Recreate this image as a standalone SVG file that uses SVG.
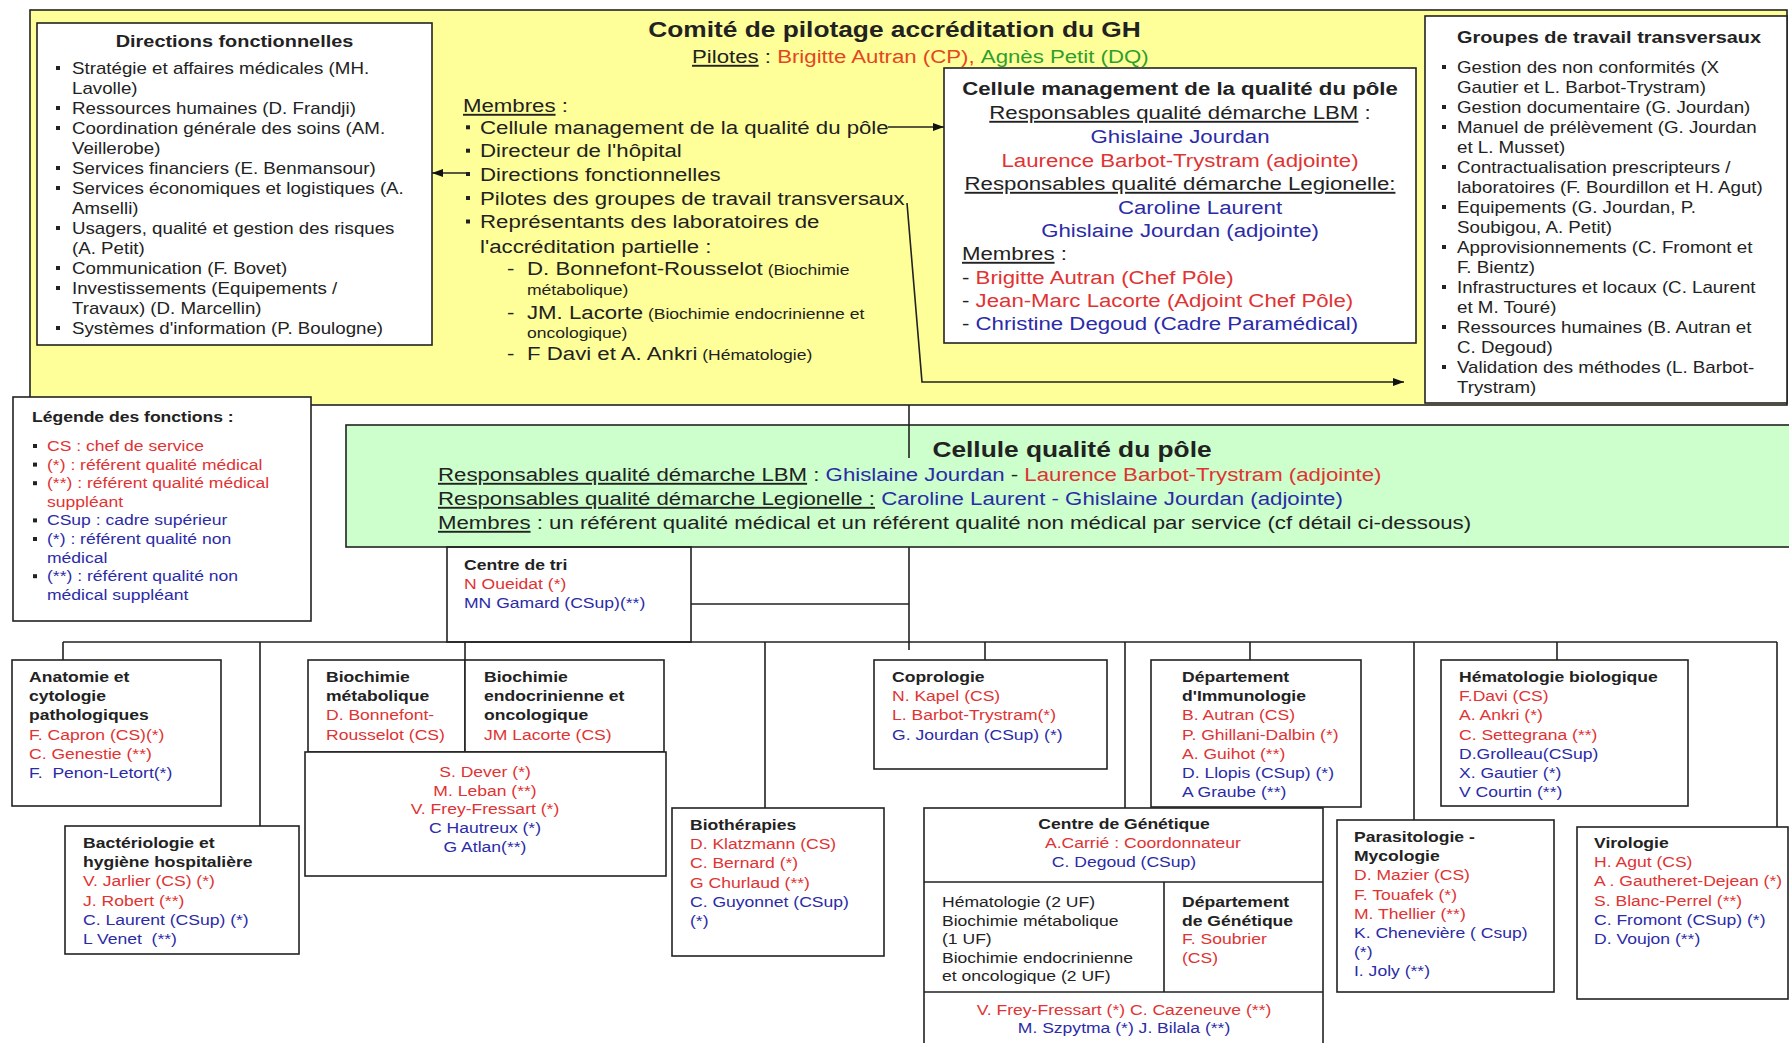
<svg xmlns="http://www.w3.org/2000/svg" width="1789" height="1043" viewBox="0 0 1789 1043">
<defs>
<style>
.t{font-family:"Liberation Sans",Arial,Helvetica,sans-serif;fill:#222}
.b{font-weight:bold}
.m{text-anchor:middle}
.r{fill:#e03333}
.o{fill:#e4471f}
.bl{fill:#2b2ba8}
.gr{fill:#2e9e2e}
.f15{font-size:15px}.f16{font-size:16px}.f17{font-size:17px}.f19{font-size:19px}.f22{font-size:22.5px}
.box{fill:#fff;stroke:#222;stroke-width:1.6}
.ln{fill:none;stroke:#222;stroke-width:1.6}
.u{text-decoration:underline}
</style>
<marker id="arr" markerWidth="11" markerHeight="8" refX="11" refY="4" orient="auto" markerUnits="userSpaceOnUse"><path d="M0,0 L11,4 L0,8 z" fill="#111"/></marker>
<rect id="sq" width="4" height="4" fill="#222"/>
</defs>
<rect width="1789" height="1043" fill="#fff"/>

<g id="comite">
<rect x="30" y="10" width="1757" height="395" fill="#ffff99" stroke="#222" stroke-width="1.6"/>
<text class="t b f22 m" transform="translate(894.5,37) scale(1.17 1)">Comité de pilotage accréditation du GH</text>
<text class="t f19" transform="translate(692,63) scale(1.17 1)"><tspan class="u">Pilotes</tspan> : <tspan class="o">Brigitte Autran (CP),</tspan> <tspan class="gr">Agnès Petit (DQ)</tspan></text>
<text class="t f19" transform="translate(463,112) scale(1.17 1)"><tspan class="u">Membres</tspan> :</text>
<use href="#sq" x="466" y="125.3"/><use href="#sq" x="466" y="148.7"/><use href="#sq" x="466" y="172"/><use href="#sq" x="466" y="196"/><use href="#sq" x="466" y="219.5"/>
<text class="t f19" transform="translate(480,134) scale(1.17 1)"><tspan x="0">Cellule management de la qualité du pôle</tspan><tspan x="0" dy="23.3">Directeur de l'hôpital</tspan><tspan x="0" dy="23.3">Directions fonctionnelles</tspan><tspan x="0" dy="24">Pilotes des groupes de travail transversaux</tspan><tspan x="0" dy="23.5">Représentants des laboratoires de</tspan><tspan x="0" dy="24.5">l'accréditation partielle :</tspan></text>
<text class="t f19" transform="translate(507,275) scale(1.17 1)">-<tspan x="17.1">D. Bonnefont-Rousselot</tspan><tspan class="f15"> (Biochimie</tspan></text>
<text class="t f15" transform="translate(527,295) scale(1.17 1)">métabolique)</text>
<text class="t f19" transform="translate(507,319) scale(1.17 1)">-<tspan x="17.1">JM. Lacorte</tspan><tspan class="f15"> (Biochimie endocrinienne et</tspan></text>
<text class="t f15" transform="translate(527,337.5) scale(1.17 1)">oncologique)</text>
<text class="t f19" transform="translate(507,360) scale(1.17 1)">-<tspan x="17.1">F Davi et A. Ankri</tspan><tspan class="f15"> (Hématologie)</tspan></text>
</g>

<g id="directions">
<rect class="box" x="37" y="23" width="395" height="322"/>
<text class="t b f17 m" transform="translate(234.5,47) scale(1.17 1)">Directions fonctionnelles</text>
<use href="#sq" x="56" y="66"/><use href="#sq" x="56" y="106"/><use href="#sq" x="56" y="126"/><use href="#sq" x="56" y="166"/><use href="#sq" x="56" y="186"/><use href="#sq" x="56" y="226"/><use href="#sq" x="56" y="266"/><use href="#sq" x="56" y="286"/><use href="#sq" x="56" y="326"/>
<text class="t f16" transform="translate(72,74) scale(1.17 1)"><tspan x="0">Stratégie et affaires médicales (MH.</tspan><tspan x="0" dy="20">Lavolle)</tspan><tspan x="0" dy="20">Ressources humaines (D. Frandji)</tspan><tspan x="0" dy="20">Coordination générale des soins (AM.</tspan><tspan x="0" dy="20">Veillerobe)</tspan><tspan x="0" dy="20">Services financiers (E. Benmansour)</tspan><tspan x="0" dy="20">Services économiques et logistiques (A.</tspan><tspan x="0" dy="20">Amselli)</tspan><tspan x="0" dy="20">Usagers, qualité et gestion des risques</tspan><tspan x="0" dy="20">(A. Petit)</tspan><tspan x="0" dy="20">Communication (F. Bovet)</tspan><tspan x="0" dy="20">Investissements (Equipements /</tspan><tspan x="0" dy="20">Travaux) (D. Marcellin)</tspan><tspan x="0" dy="20">Systèmes d'information (P. Boulogne)</tspan></text>
</g>

<g id="cellule-management">
<rect class="box" x="944" y="68" width="472" height="275"/>
<text class="t f19 b m" transform="translate(1180,95) scale(1.17 1)">Cellule management de la qualité du pôle</text>
<text class="t f19 m" transform="translate(1180,119) scale(1.17 1)"><tspan class="u">Responsables qualité démarche LBM</tspan> :</text>
<text class="t f19 m bl" transform="translate(1180,143) scale(1.17 1)">Ghislaine Jourdan</text>
<text class="t f19 m r" transform="translate(1180,167) scale(1.17 1)">Laurence Barbot-Trystram (adjointe)</text>
<text class="t f19 m" transform="translate(1180,190) scale(1.17 1)"><tspan class="u">Responsables qualité démarche Legionelle:</tspan></text>
<text class="t f19 m bl" transform="translate(1200,214) scale(1.17 1)">Caroline Laurent</text>
<text class="t f19 m bl" transform="translate(1180,237) scale(1.17 1)">Ghislaine Jourdan (adjointe)</text>
<text class="t f19" transform="translate(962,260) scale(1.17 1)"><tspan class="u">Membres</tspan> :</text>
<text class="t f19" transform="translate(962,284) scale(1.17 1)">- <tspan class="r">Brigitte Autran (Chef Pôle)</tspan></text>
<text class="t f19" transform="translate(962,307) scale(1.17 1)">- <tspan class="r">Jean-Marc Lacorte (Adjoint Chef Pôle)</tspan></text>
<text class="t f19" transform="translate(962,330) scale(1.17 1)">- <tspan class="bl">Christine Degoud (Cadre Paramédical)</tspan></text>
</g>

<g id="groupes">
<rect class="box" x="1425" y="16" width="362" height="387"/>
<text class="t b f17" transform="translate(1457,43) scale(1.17 1)">Groupes de travail transversaux</text>
<use href="#sq" x="1442" y="65"/><use href="#sq" x="1442" y="105"/><use href="#sq" x="1442" y="125"/><use href="#sq" x="1442" y="165"/><use href="#sq" x="1442" y="205"/><use href="#sq" x="1442" y="245"/><use href="#sq" x="1442" y="285"/><use href="#sq" x="1442" y="325"/><use href="#sq" x="1442" y="365"/>
<text class="t f16" transform="translate(1457,72.6) scale(1.17 1)"><tspan x="0">Gestion des non conformités (X</tspan><tspan x="0" dy="20">Gautier et L. Barbot-Trystram)</tspan><tspan x="0" dy="20">Gestion documentaire (G. Jourdan)</tspan><tspan x="0" dy="20">Manuel de prélèvement (G. Jourdan</tspan><tspan x="0" dy="20">et L. Musset)</tspan><tspan x="0" dy="20">Contractualisation prescripteurs /</tspan><tspan x="0" dy="20">laboratoires (F. Bourdillon et H. Agut)</tspan><tspan x="0" dy="20">Equipements (G. Jourdan, P.</tspan><tspan x="0" dy="20">Soubigou, A. Petit)</tspan><tspan x="0" dy="20">Approvisionnements (C. Fromont et</tspan><tspan x="0" dy="20">F. Bientz)</tspan><tspan x="0" dy="20">Infrastructures et locaux (C. Laurent</tspan><tspan x="0" dy="20">et M. Touré)</tspan><tspan x="0" dy="20">Ressources humaines (B. Autran et</tspan><tspan x="0" dy="20">C. Degoud)</tspan><tspan x="0" dy="20">Validation des méthodes (L. Barbot-</tspan><tspan x="0" dy="20">Trystram)</tspan></text>
</g>

<g id="legende">
<rect class="box" x="13" y="397" width="298" height="224"/>
<text class="t b f15" transform="translate(32,422) scale(1.17 1)">Légende des fonctions :</text>
<use href="#sq" x="33" y="444"/><use href="#sq" x="33" y="462.6"/><use href="#sq" x="33" y="481.2"/><use href="#sq" x="33" y="518.4"/><use href="#sq" x="33" y="537"/><use href="#sq" x="33" y="574.2"/>
<text class="t f15" transform="translate(47,451) scale(1.17 1)"><tspan x="0" class="r">CS : chef de service</tspan><tspan x="0" dy="18.6" class="r">(*) : référent qualité médical</tspan><tspan x="0" dy="18.6" class="r">(**) : référent qualité médical</tspan><tspan x="0" dy="18.6" class="r">suppléant</tspan><tspan x="0" dy="18.6" class="bl">CSup : cadre supérieur</tspan><tspan x="0" dy="18.6" class="bl">(*) : référent qualité non</tspan><tspan x="0" dy="18.6" class="bl">médical</tspan><tspan x="0" dy="18.6" class="bl">(**) : référent qualité non</tspan><tspan x="0" dy="18.6" class="bl">médical suppléant</tspan></text>
</g>

<g id="cellule-qualite">
<rect x="346" y="425" width="1445" height="122" fill="#ccffcc" stroke="#222" stroke-width="1.6"/>
<text class="t b f22 m" transform="translate(1072,457) scale(1.17 1)">Cellule qualité du pôle</text>
<text class="t f19" transform="translate(438,481) scale(1.17 1)"><tspan class="u">Responsables qualité démarche LBM</tspan> : <tspan class="bl">Ghislaine Jourdan</tspan> - <tspan class="r">Laurence Barbot-Trystram (adjointe)</tspan></text>
<text class="t f19" transform="translate(438,505) scale(1.17 1)"><tspan class="u">Responsables qualité démarche Legionelle :</tspan> <tspan class="bl">Caroline Laurent - Ghislaine Jourdan (adjointe)</tspan></text>
<text class="t f19" transform="translate(438,529) scale(1.17 1)"><tspan class="u">Membres</tspan> : un référent qualité médical et un référent qualité non médical par service (cf détail ci-dessous)</text>
</g>

<g id="centre-tri">
<rect x="447" y="547" width="244" height="95" fill="none" stroke="#222" stroke-width="1.6"/>
<text class="t f15" transform="translate(464,570) scale(1.17 1)"><tspan x="0" class="b">Centre de tri</tspan><tspan x="0" dy="19.5" class="r">N Oueidat (*)</tspan><tspan x="0" dy="19" class="bl">MN Gamard (CSup)(**)</tspan></text>
</g>

<g id="anatomie">
<rect class="box" x="12" y="660" width="209" height="146"/>
<text class="t f15" transform="translate(29,682) scale(1.17 1)"><tspan x="0" class="b">Anatomie et</tspan><tspan x="0" dy="19.2" class="b">cytologie</tspan><tspan x="0" dy="19.2" class="b">pathologiques</tspan><tspan x="0" dy="19.2" class="r">F. Capron (CS)(*)</tspan><tspan x="0" dy="19.2" class="r">C. Genestie (**)</tspan><tspan x="0" dy="19.2" class="bl">F.&#160; Penon-Letort(*)</tspan></text>
</g>

<g id="bacteriologie">
<rect class="box" x="65" y="826" width="234" height="128"/>
<text class="t f15" transform="translate(83,848) scale(1.17 1)"><tspan x="0" class="b">Bactériologie et</tspan><tspan x="0" dy="19.2" class="b">hygiène hospitalière</tspan><tspan x="0" dy="19.2" class="r">V. Jarlier (CS) (*)</tspan><tspan x="0" dy="19.2" class="r">J. Robert (**)</tspan><tspan x="0" dy="19.2" class="bl">C. Laurent (CSup) (*)</tspan><tspan x="0" dy="19.2" class="bl">L Venet&#160; (**)</tspan></text>
</g>

<g id="biochimie">
<rect class="box" x="308" y="660" width="157" height="92"/>
<rect class="box" x="465" y="660" width="199" height="92"/>
<rect class="box" x="305" y="752" width="361" height="124"/>
<text class="t f15" transform="translate(326,682) scale(1.17 1)"><tspan x="0" class="b">Biochimie</tspan><tspan x="0" dy="19.2" class="b">métabolique</tspan><tspan x="0" dy="19.2" class="r">D. Bonnefont-</tspan><tspan x="0" dy="19.2" class="r">Rousselot (CS)</tspan></text>
<text class="t f15" transform="translate(484,682) scale(1.17 1)"><tspan x="0" class="b">Biochimie</tspan><tspan x="0" dy="19.2" class="b">endocrinienne et</tspan><tspan x="0" dy="19.2" class="b">oncologique</tspan><tspan x="0" dy="19.2" class="r">JM Lacorte (CS)</tspan></text>
<text class="t f15 m" transform="translate(485,777) scale(1.17 1)"><tspan x="0" class="r">S. Dever (*)</tspan><tspan x="0" dy="18.75" class="r">M. Leban (**)</tspan><tspan x="0" dy="18.75" class="r">V. Frey-Fressart (*)</tspan><tspan x="0" dy="18.75" class="bl">C Hautreux (*)</tspan><tspan x="0" dy="18.75" class="bl">G Atlan(**)</tspan></text>
</g>

<g id="biotherapies">
<rect class="box" x="672" y="808" width="212" height="148"/>
<text class="t f15" transform="translate(690,830) scale(1.17 1)"><tspan x="0" class="b">Biothérapies</tspan><tspan x="0" dy="19.2" class="r">D. Klatzmann (CS)</tspan><tspan x="0" dy="19.2" class="r">C. Bernard (*)</tspan><tspan x="0" dy="19.2" class="r">G Churlaud (**)</tspan><tspan x="0" dy="19.2" class="bl">C. Guyonnet (CSup)</tspan><tspan x="0" dy="19.2" class="bl">(*)</tspan></text>
</g>

<g id="coprologie">
<rect class="box" x="874" y="660" width="233" height="109"/>
<text class="t f15" transform="translate(892,682) scale(1.17 1)"><tspan x="0" class="b">Coprologie</tspan><tspan x="0" dy="19.2" class="r">N. Kapel (CS)</tspan><tspan x="0" dy="19.2" class="r">L. Barbot-Trystram(*)</tspan><tspan x="0" dy="19.2" class="bl">G. Jourdan (CSup) (*)</tspan></text>
</g>

<g id="immunologie">
<rect class="box" x="1151" y="660" width="210" height="147"/>
<text class="t f15" transform="translate(1182,682) scale(1.17 1)"><tspan x="0" class="b">Département</tspan><tspan x="0" dy="19.2" class="b">d'Immunologie</tspan><tspan x="0" dy="19.2" class="r">B. Autran (CS)</tspan><tspan x="0" dy="19.2" class="r">P. Ghillani-Dalbin (*)</tspan><tspan x="0" dy="19.2" class="r">A. Guihot (**)</tspan><tspan x="0" dy="19.2" class="bl">D. Llopis (CSup) (*)</tspan><tspan x="0" dy="19.2" class="bl">A Graube (**)</tspan></text>
</g>

<g id="centre-genetique">
<rect class="box" x="924" y="808" width="399" height="245"/>
<path class="ln" d="M924,882 H1323 M924,992 H1323 M1164,882 V992"/>
<text class="t f15 b m" transform="translate(1124,829) scale(1.17 1)">Centre de Génétique</text>
<text class="t f15 m r" transform="translate(1143,848) scale(1.17 1)">A.Carrié : Coordonnateur</text>
<text class="t f15 m bl" transform="translate(1124,867) scale(1.17 1)">C. Degoud (CSup)</text>
<text class="t f15" transform="translate(942,907) scale(1.17 1)"><tspan x="0">Hématologie (2 UF)</tspan><tspan x="0" dy="18.6">Biochimie métabolique</tspan><tspan x="0" dy="18.6">(1 UF)</tspan><tspan x="0" dy="18.6">Biochimie endocrinienne</tspan><tspan x="0" dy="18.6">et oncologique (2 UF)</tspan></text>
<text class="t f15" transform="translate(1182,907) scale(1.17 1)"><tspan x="0" class="b">Département</tspan><tspan x="0" dy="18.6" class="b">de Génétique</tspan><tspan x="0" dy="18.6" class="r">F. Soubrier</tspan><tspan x="0" dy="18.6" class="r">(CS)</tspan></text>
<text class="t f15 m" transform="translate(1124,1015) scale(1.17 1)"><tspan x="0" class="r">V. Frey-Fressart (*) C. Cazeneuve (**)</tspan><tspan x="0" dy="18.5" class="bl">M. Szpytma (*) J. Bilala (**)</tspan></text>
</g>

<g id="hematologie">
<rect class="box" x="1441" y="660" width="247" height="146"/>
<text class="t f15" transform="translate(1459,682) scale(1.17 1)"><tspan x="0" class="b">Hématologie biologique</tspan><tspan x="0" dy="19.2" class="r">F.Davi (CS)</tspan><tspan x="0" dy="19.2" class="r">A. Ankri (*)</tspan><tspan x="0" dy="19.2" class="r">C. Settegrana (**)</tspan><tspan x="0" dy="19.2" class="bl">D.Grolleau(CSup)</tspan><tspan x="0" dy="19.2" class="bl">X. Gautier (*)</tspan><tspan x="0" dy="19.2" class="bl">V Courtin (**)</tspan></text>
</g>

<g id="parasitologie">
<rect class="box" x="1337" y="820" width="217" height="172"/>
<text class="t f15" transform="translate(1354,842) scale(1.17 1)"><tspan x="0" class="b">Parasitologie -</tspan><tspan x="0" dy="19.2" class="b">Mycologie</tspan><tspan x="0" dy="19.2" class="r">D. Mazier (CS)</tspan><tspan x="0" dy="19.2" class="r">F. Touafek (*)</tspan><tspan x="0" dy="19.2" class="r">M. Thellier (**)</tspan><tspan x="0" dy="19.2" class="bl">K. Chenevière ( Csup)</tspan><tspan x="0" dy="19.2" class="bl">(*)</tspan><tspan x="0" dy="19.2" class="bl">I. Joly (**)</tspan></text>
</g>

<g id="virologie">
<rect class="box" x="1577" y="827" width="211" height="172"/>
<text class="t f15" transform="translate(1594,848) scale(1.17 1)"><tspan x="0" class="b">Virologie</tspan><tspan x="0" dy="19.2" class="r">H. Agut (CS)</tspan><tspan x="0" dy="19.2" class="r">A . Gautheret-Dejean (*)</tspan><tspan x="0" dy="19.2" class="r">S. Blanc-Perrel (**)</tspan><tspan x="0" dy="19.2" class="bl">C. Fromont (CSup) (*)</tspan><tspan x="0" dy="19.2" class="bl">D. Voujon (**)</tspan></text>
</g>

<g id="connectors" class="ln">
<path d="M888,127 H944" marker-end="url(#arr)"/>
<path d="M467,173 H432" marker-end="url(#arr)"/>
<path d="M907,203 L922,382 H1404" marker-end="url(#arr)"/>
<path d="M909,405 V458"/>
<path d="M909,547 V650"/>
<path d="M691,604 H909"/>
<path d="M63,642 H1777"/>
<path d="M63,642 V660 M260,642 V826 M465,642 V660 M765,642 V808 M985,642 V660 M1125,642 V808 M1250,642 V660 M1414,642 V820 M1557,642 V660 M1777,642 V827"/>
</g>
</svg>
